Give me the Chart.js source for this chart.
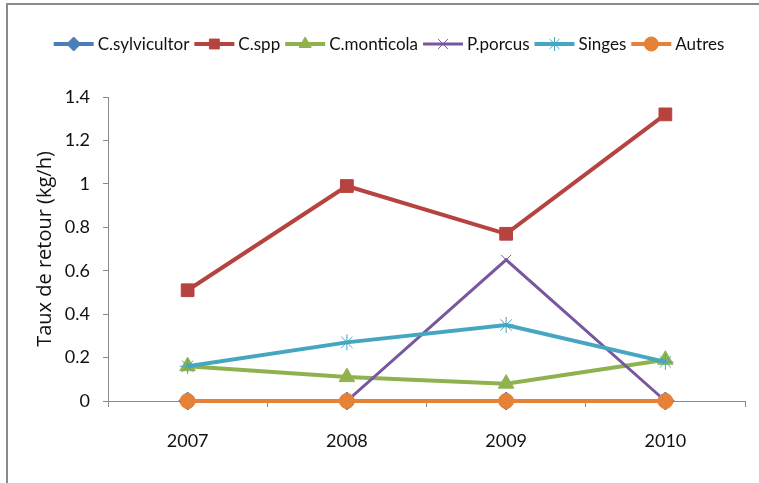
<!DOCTYPE html>
<html><head><meta charset="utf-8">
<script src="https://cdn.jsdelivr.net/npm/chart.js@4/dist/chart.umd.min.js"></script>
<style>
html,body{margin:0;padding:0;background:#fff;}
#wrap{position:relative;width:759px;height:483px;}
canvas{display:block;}
</style></head><body>
<div id="wrap"><canvas id="c" width="759" height="483"></canvas></div>
<script>
const categories = ["2007", "2008", "2009", "2010"];
const seriesNames = ["C.sylvicultor", "C.spp", "C.monticola", "P.porcus", "Singes", "Autres"];
const sylvicultor = [0, 0, 0, 0];
const cspp = [0.51, 0.99, 0.77, 1.32];
const monticola = [0.16, 0.11, 0.08, 0.19];
const porcus = [0, 0, 0.65, 0];
const singes = [0.16, 0.27, 0.35, 0.18];
const autres = [0, 0, 0, 0];
const yTicks = [0, 0.2, 0.4, 0.6, 0.8, 1, 1.2, 1.4];
const yTitle = "Taux de retour (kg/h)";

const colors = ["#4A7EBB", "#B6433F", "#8FB24E", "#7657A0", "#46A6C2", "#E58237"];
const styles = ["rectRot", "rect", "triangle", "crossRot", "star", "circle"];
const radii = [9, 9, 9, 7, 8, 7.5];
const widths = [4, 4, 4, 3, 4, 4];
const values = [sylvicultor, cspp, monticola, porcus, singes, autres];

const FONT = "Lato, sans-serif";
const PADL = 33;

const datasets = seriesNames.map((n, i) => ({
  label: n,
  data: values[i],
  borderColor: colors[i],
  backgroundColor: colors[i],
  pointStyle: styles[i],
  pointRadius: radii[i],
  pointBorderColor: colors[i],
  pointBackgroundColor: colors[i],
  pointBorderWidth: 1,
  borderWidth: widths[i],
  tension: 0,
  fill: false,
  clip: false,
  order: i === 5 ? 0 : (6 - i)
}));

const legendPlugin = {
  id: 'customLegend',
  afterDraw(chart) {
    const ctx = chart.ctx;
    ctx.save();
    ctx.font = "17px " + FONT;
    const lineLen = 40, gap = 4, itemGap = 5;
    const items = chart.data.datasets.map(d => ({d, w: ctx.measureText(d.label).width}));
    let total = items.reduce((s, it) => s + lineLen + gap + it.w, 0) + itemGap * (items.length - 1);
    let x = 389 - total / 2;
    const y = 44;
    items.forEach(it => {
      const d = it.d;
      ctx.strokeStyle = d.borderColor;
      ctx.lineWidth = d.borderWidth;
      ctx.beginPath(); ctx.moveTo(x, y); ctx.lineTo(x + lineLen, y); ctx.stroke();
      ctx.fillStyle = d.backgroundColor;
      ctx.lineWidth = 1;
      Chart.helpers.drawPoint(ctx, {pointStyle: d.pointStyle, radius: Math.min(d.pointRadius, 7), rotation: 0, borderWidth: 1}, x + lineLen / 2, y);
      ctx.fillStyle = '#111';
      ctx.textBaseline = 'middle';
      ctx.textAlign = 'left';
      ctx.fillText(d.label, x + lineLen + gap, y + 1);
      x += lineLen + gap + it.w + itemGap;
    });
    ctx.restore();
  }
};

const framePlugin = {
  id: 'frame',
  beforeDraw(chart) {
    const ctx = chart.ctx;
    ctx.save();
    ctx.fillStyle = '#fff';
    ctx.fillRect(0, 0, chart.width, chart.height);
    ctx.strokeStyle = '#8a8a8a';
    ctx.lineWidth = 2;
    ctx.beginPath();
    ctx.moveTo(7, 483); ctx.lineTo(7, 4); ctx.lineTo(759, 4);
    ctx.stroke();
    ctx.restore();
  }
};

new Chart(document.getElementById('c'), {
  type: 'line',
  data: { labels: categories, datasets },
  options: {
    responsive: false,
    animation: false,
    devicePixelRatio: 1,
    layout: { padding: { left: PADL, right: 14, top: 97, bottom: 20 } },
    plugins: { legend: { display: false }, tooltip: { enabled: false } },
    scales: {
      x: {
        type: 'category',
        offset: true,
        grid: { offset: true, drawOnChartArea: false, drawTicks: true, tickLength: 6, color: '#8a8a8a', lineWidth: 1 },
        border: { color: '#8a8a8a', width: 1 },
        ticks: { color: '#111', font: { family: FONT, size: 18 }, padding: 23 },
        afterFit(s) { s.height = 483 - 401 - 20; }
      },
      y: {
        min: 0, max: 1.4,
        afterBuildTicks(s) { s.ticks = yTicks.map(v => ({value: v})); },
        grid: { drawOnChartArea: false, drawTicks: true, tickLength: 5, color: '#8a8a8a' },
        border: { color: '#8a8a8a', width: 1 },
        ticks: { color: '#111', font: { family: FONT, size: 18 }, padding: 13,
          callback: v => String(v) },
        title: { display: true, text: yTitle, color: '#111', font: { family: "'Open Sans', sans-serif", size: 20 }, padding: { top: 0, bottom: 0 } },
        afterFit(s) { s.width = 108 - PADL; }
      }
    }
  },
  plugins: [framePlugin, legendPlugin]
});
</script>
</body></html>
